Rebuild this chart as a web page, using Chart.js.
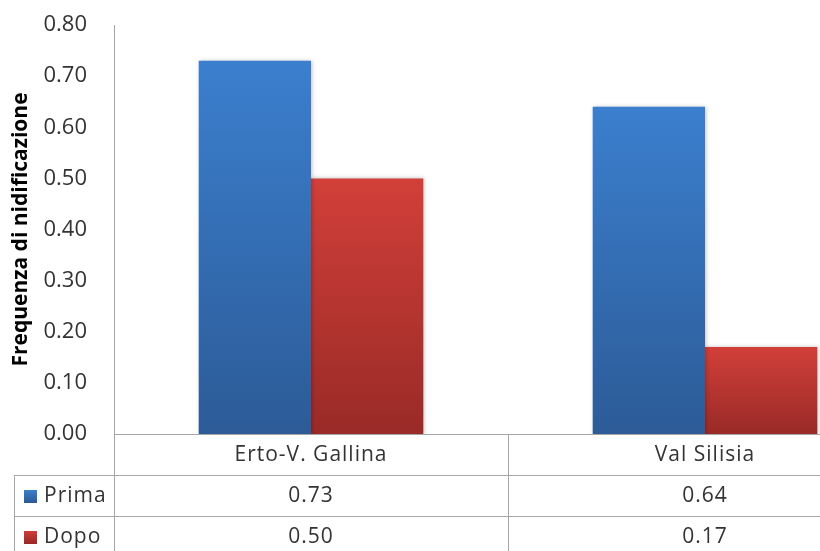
<!DOCTYPE html>
<html>
<head>
<meta charset="utf-8">
<script src="https://cdn.jsdelivr.net/npm/chart.js@4.4.1/dist/chart.umd.min.js"></script>
<style>
  html, body { margin: 0; padding: 0; background: #fff; width: 820px; height: 551px; overflow: hidden; }
  #wrap { position: relative; width: 905px; height: 551px; }
</style>
</head>
<body>
<div id="wrap"><canvas id="chart"></canvas></div>
<script>
// Frequenza di nidificazione per area, prima e dopo
const categories = ['Erto-V. Gallina', 'Val Silisia'];
const prima = [0.73, 0.64];
const dopo = [0.50, 0.17];
const seriesNames = ['Prima', 'Dopo'];
const yTicks = [0, 0.1, 0.2, 0.3, 0.4, 0.5, 0.6, 0.7, 0.8];

const FONT = '"Open Sans", Lato, sans-serif';
const TEXT = '#333333';
const LINE = '#a6a6a6';

const palettes = [
  { top: '#3b7fce', bottom: '#2c5b97' },
  { top: '#d23f39', bottom: '#992a27' }
];

function barGradient(ctx, yTop, yBottom, pal) {
  const g = ctx.createLinearGradient(0, yTop, 0, yBottom);
  g.addColorStop(0, pal.top);
  g.addColorStop(1, pal.bottom);
  return g;
}

function barFill(idx) {
  return function (context) {
    const chart = context.chart;
    const y = chart.scales.y;
    if (!chart.chartArea || !y || context.raw === undefined) return palettes[idx].top;
    const top = y.getPixelForValue(context.raw);
    const bottom = y.getPixelForValue(0);
    return barGradient(chart.ctx, top, bottom, palettes[idx]);
  };
}

// Soft shadow behind the bars
const barShadow = {
  id: 'barShadow',
  beforeDatasetsDraw(chart) {
    const ctx = chart.ctx;
    ctx.save();
    ctx.shadowColor = 'rgba(0,0,0,0.25)';
    ctx.shadowBlur = 4;
    ctx.shadowOffsetX = 1;
    ctx.shadowOffsetY = 0;
  },
  afterDatasetsDraw(chart) {
    chart.ctx.restore();
  }
};

// Data table drawn below the category axis
const dataTable = {
  id: 'dataTable',
  afterDraw(chart) {
    const { ctx, chartArea } = chart;
    const x = chart.scales.x;
    const axisY = chartArea.bottom;
    const rowLines = [axisY + 41, axisY + 82];
    const leftEdge = 14;
    const rows = [prima, dopo];
    const step = (chartArea.right - chartArea.left) / categories.length;

    ctx.save();
    ctx.strokeStyle = LINE;
    ctx.lineWidth = 1;
    ctx.beginPath();
    rowLines.forEach(yv => {
      const yy = Math.round(yv) + 0.5;
      ctx.moveTo(leftEdge, yy);
      ctx.lineTo(chartArea.right, yy);
    });
    const xl = Math.round(chartArea.left) + 0.5;
    ctx.moveTo(xl, axisY);
    ctx.lineTo(xl, chart.height);
    ctx.moveTo(leftEdge + 0.5, rowLines[0]);
    ctx.lineTo(leftEdge + 0.5, chart.height);
    for (let c = 1; c < categories.length; c++) {
      const xc = Math.round(chartArea.left + c * step) + 0.5;
      ctx.moveTo(xc, axisY);
      ctx.lineTo(xc, chart.height);
    }
    ctx.stroke();

    ctx.fillStyle = TEXT;
    ctx.font = '21px ' + FONT;
    ctx.letterSpacing = '1px';
    ctx.textAlign = 'center';
    ctx.textBaseline = 'middle';
    categories.forEach((c, i) => {
      ctx.fillText(c, x.getPixelForValue(i), axisY + 21);
    });
    rows.forEach((vals, r) => {
      const cy = rowLines[r] + 21;
      vals.forEach((v, i) => {
        ctx.fillStyle = TEXT;
        ctx.textAlign = 'center';
        ctx.fillText(v.toFixed(2), x.getPixelForValue(i), cy);
      });
      const ks = 13;
      ctx.fillStyle = barGradient(ctx, cy - ks / 2, cy + ks / 2, palettes[r]);
      ctx.fillRect(24, Math.round(cy - ks / 2), ks, ks);
      ctx.fillStyle = TEXT;
      ctx.textAlign = 'left';
      ctx.fillText(seriesNames[r], 44, cy);
    });
    ctx.restore();
  }
};

new Chart(document.getElementById('chart'), {
  type: 'bar',
  data: {
    labels: categories,
    datasets: [
      { label: seriesNames[0], data: prima, backgroundColor: barFill(0), borderWidth: 0 },
      { label: seriesNames[1], data: dopo, backgroundColor: barFill(1), borderWidth: 0 }
    ]
  },
  options: {
    responsive: true,
    maintainAspectRatio: false,
    animation: false,
    devicePixelRatio: 1,
    layout: { padding: { top: 25, right: 3, bottom: 109, left: 0 } },
    plugins: { legend: { display: false }, tooltip: { enabled: false } },
    datasets: { bar: { categoryPercentage: 0.57, barPercentage: 1.0 } },
    scales: {
      x: {
        grid: { display: false },
        border: { display: true, color: LINE, width: 1 },
        ticks: { display: false }
      },
      y: {
        min: 0,
        max: 0.8,
        afterBuildTicks(scale) { scale.ticks = yTicks.map(v => ({ value: v })); },
        afterFit(scale) {
          scale.width = 114;
          scale.paddingTop = 0;
          scale.paddingBottom = 0;
        },
        grid: { display: false },
        border: { display: true, color: LINE, width: 1 },
        ticks: {
          padding: 19,
          color: TEXT,
          font: { family: FONT, size: 22 },
          callback: v => Number(v).toFixed(2)
        },
        title: {
          display: true,
          text: 'Frequenza di nidificazione',
          color: '#000',
          font: { family: FONT, size: 21, weight: 'bold' },
          padding: { top: 8, bottom: 0 }
        }
      }
    }
  },
  plugins: [barShadow, dataTable]
});
</script>
</body>
</html>
